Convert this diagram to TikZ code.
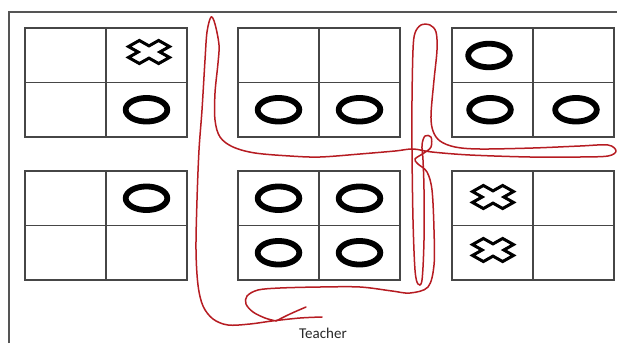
\documentclass[tikz,border=0pt]{standalone}
\usepackage{fontspec}
\setmainfont{Carlito}
\definecolor{gridline}{RGB}{70,70,70}
\definecolor{frameline}{RGB}{85,85,85}
\definecolor{pen}{RGB}{182,28,34}
\definecolor{labeltext}{RGB}{40,40,40}
\tikzset{
  gridbox/.style={draw=gridline, line width=1.2pt},
  framerule/.style={draw=frameline, line width=1.2pt},
  omark/.style={draw=black, line width=5.8pt},
  xmarkshape/.style={draw=black, fill=white, line width=3pt, line join=miter},
  penstroke/.style={draw=pen, line width=1.5pt, line cap=round, line join=round},
}
% a 2x2 board with its top-left corner at (#1,#2)
\newcommand\boardAt[2]{%
  \draw[gridbox] (#1,#2) rectangle ++(162,109);
  \draw[gridbox] (#1+81,#2) -- ++(0,109);
  \draw[gridbox] (#1,#2+54.5) -- ++(162,0);
}
% an O mark centred at (#1,#2)
\newcommand\ringAt[2]{%
  \draw[omark] (#1,#2) ellipse [x radius=20.8pt, y radius=11.8pt];
}
% an outlined X mark centred at (#1,#2): a plus sign turned by 45 degrees
\newcommand\crossAt[2]{%
  \begin{scope}[shift={(#1,#2)}, xscale=21.3, yscale=12, rotate=45]
    \draw[xmarkshape] (0.36,0.36) -- (1,0.36) -- (1,-0.36) -- (0.36,-0.36)
      -- (0.36,-1) -- (-0.36,-1) -- (-0.36,-0.36) -- (-1,-0.36) -- (-1,0.36)
      -- (-0.36,0.36) -- (-0.36,1) -- (0.36,1) -- cycle;
  \end{scope}
}
\begin{document}
\begin{tikzpicture}[x=1pt, y=-1pt]
  \useasboundingbox (0,0) rectangle (617,343);
  \fill[white] (0,0) rectangle (617,343);

  % page edge
  \draw[framerule] (9,343) -- (9,12) -- (617,12);

  % boards
  \boardAt{25}{28}
  \boardAt{238}{28}
  \boardAt{452}{28}
  \boardAt{25}{171}
  \boardAt{238}{171}
  \boardAt{452}{171}

  % marks, top row
  \crossAt{149}{52}
  \ringAt{146.5}{109.75}
  \ringAt{278.5}{109.75}
  \ringAt{359.5}{109.75}
  \ringAt{489}{55.5}
  \ringAt{490}{109.75}
  \ringAt{576}{109.75}

  % marks, bottom row
  \ringAt{146.5}{198.25}
  \ringAt{278.5}{198.25}
  \ringAt{359.5}{198.25}
  \ringAt{278.5}{252.75}
  \ringAt{359.5}{252.75}
  \crossAt{493}{197}
  \crossAt{493}{250}

  % hand-drawn pen stroke around the middle boards
  \draw[penstroke] plot[smooth, tension=0.55] coordinates {
    (322,317) (300,318) (272,321) (250,324) (228,325) (213,319) (203,306)
    (198,285) (196,250) (197,200) (199,150) (202,110) (205,60) (207,32)
    (211,17) (215,24) (219,45) (218,63) (215,93) (215,120) (220,137)
    (233,147) (255,153) (290,156) (320,157) (360,154) (395,151) (413,149)
    (432,152) (470,155) (530,157) (580,157) (608,156) (616,151) (608,145)
    (580,146) (533,148) (480,149) (455,147) (440,141) (433,131) (431,115)
    (434,80) (437,50) (436,32) (430,25) (421,25) (415,33) (413,50)
    (412,100) (412,150) (413,220) (415,270) (418,284) (422,280) (424,240)
    (424,190) (423,160) (422,145) (425,136) (431,137) (431,147) (424,153)
    (415,159) (418,164) (427,172) (432,190) (434,230) (434,265) (428,287)
    (410,293) (392,291) (360,287) (320,287) (280,288) (258,290) (247,296)
    (246,304) (253,312) (265,318) (276,321)
  };
  \draw[penstroke] plot[smooth, tension=0.55] coordinates {
    (276,321) (290,314) (306,307)
  };

  \node[font=\fontsize{15}{17}\selectfont, text=labeltext] (teacher) at (323,333) {Teacher};
\end{tikzpicture}
\end{document}
